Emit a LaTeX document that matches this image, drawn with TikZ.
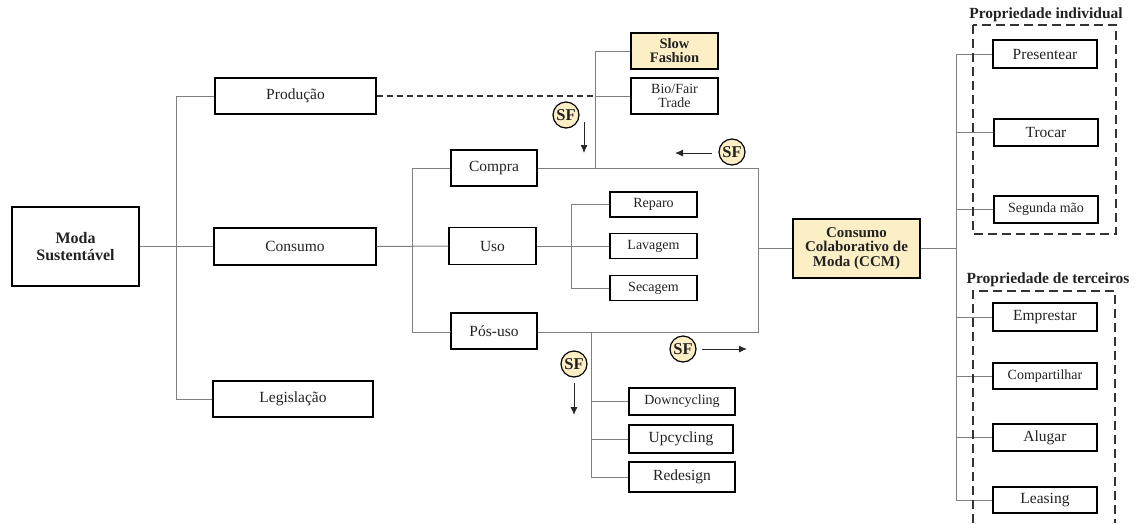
\documentclass[tikz,border=0pt]{standalone}
\usepackage{fontspec}
\setmainfont{Liberation Serif}
\usetikzlibrary{arrows.meta}
\definecolor{sfyellow}{HTML}{FCEFC5}
\definecolor{linegray}{HTML}{808080}
\definecolor{txt}{HTML}{222222}
\tikzset{
  box/.style={draw=black, line width=1.3pt, inner sep=1pt, align=center, text=txt,
    font=\fontsize{15.5}{17}\selectfont},
  boxs/.style={box, font=\fontsize{14}{14}\selectfont},
  boxb/.style={box, font=\bfseries\fontsize{15.5}{15}\selectfont},
  hl/.style={fill=sfyellow},
  conn/.style={draw=linegray, line width=1pt},
  dconn/.style={draw=black!80, line width=1.3pt, dash pattern=on 6pt off 4pt},
  grp/.style={draw=black!80, line width=1.5pt, dash pattern=on 9pt off 5pt},
  grplabel/.style={font=\bfseries\fontsize{15.5}{17}\selectfont, text=txt},
  sfc/.style={circle, draw=black, line width=1.2pt, fill=sfyellow, minimum size=26pt, inner sep=0pt,
    font=\bfseries\fontsize{16.5}{16}\selectfont, text=txt},
  arr/.style={draw=black!85, line width=0.9pt, -{Latex[length=8pt,width=7pt]}},
}
\begin{document}
\begin{tikzpicture}[x=1pt,y=-1pt]
\useasboundingbox (0,0) rectangle (1146,523);

% level 0/1
\node[box, font=\bfseries\fontsize{16}{17}\selectfont, minimum width=127pt, minimum height=79pt] (moda) at (75.5,246.5) {Moda\\Sustentável};
\node[box, minimum width=161pt, minimum height=36pt] (prod) at (295.5,96) {Produção};
\node[box, minimum width=162pt, minimum height=37pt] (cons) at (295,246.5) {Consumo};
\node[box, minimum width=160pt, minimum height=36pt] (legis) at (293,399) {Legislação};

% production branch
\node[boxb, hl, font=\bfseries\fontsize{14.5}{14}\selectfont, minimum width=87pt, minimum height=36pt] (slow) at (674.5,51) {Slow\\Fashion};
\node[boxs, font=\fontsize{14}{13.5}\selectfont, minimum width=87pt, minimum height=36pt] (bio) at (674.5,96) {Bio/Fair\\Trade};

% consumption branch
\node[box, minimum width=86pt, minimum height=36pt] (compra) at (494,168) {Compra};
\node[box, minimum width=87pt, minimum height=37pt] (uso) at (492.5,246) {Uso};
\node[box, minimum width=86pt, minimum height=36pt] (posuso) at (494,331) {Pós-uso};

\node[boxs, minimum width=87pt, minimum height=25pt] (reparo) at (653.5,204.5) {Reparo};
\node[boxs, minimum width=87pt, minimum height=25pt] (lavagem) at (653.5,246) {Lavagem};
\node[boxs, minimum width=87pt, minimum height=25pt] (secagem) at (653.5,288) {Secagem};

\node[boxs, minimum width=106pt, minimum height=27pt] (down) at (682,401.5) {Downcycling};
\node[box, minimum width=104pt, minimum height=28pt] (up) at (681,439) {Upcycling};
\node[box, minimum width=106pt, minimum height=30pt] (redesign) at (682,477) {Redesign};

% CCM
\node[boxb, hl, font=\bfseries\fontsize{15}{14.5}\selectfont, minimum width=127pt, minimum height=59pt] (ccm) at (856.5,248.5) {Consumo\\Colaborativo de\\Moda (CCM)};

% property groups
\node[box, minimum width=104pt, minimum height=28pt] (present) at (1045,54) {Presentear};
\node[box, minimum width=104pt, minimum height=27pt] (trocar) at (1046,132.5) {Trocar};
\node[boxs, minimum width=104pt, minimum height=27pt] (segunda) at (1046,209.5) {Segunda mão};

\node[box, minimum width=104pt, minimum height=28pt] (emprestar) at (1045,317) {Emprestar};
\node[boxs, minimum width=104pt, minimum height=26pt] (compart) at (1045,376) {Compartilhar};
\node[box, minimum width=104pt, minimum height=27pt] (alugar) at (1045,437.5) {Alugar};
\node[box, minimum width=104pt, minimum height=26pt] (leasing) at (1045,500) {Leasing};

\node[grplabel] (g1label) at (1046,15) {Propriedade individual};
\node[grplabel] (g2label) at (1048,280) {Propriedade de terceiros};

% junction coordinates
\coordinate (sfj) at (595,168);
\coordinate (cr) at (758,168);
\coordinate (pr) at (758,332);
\coordinate (pj) at (591,332);

% connectors level 1
\draw[conn] (moda.east) -- (cons.west);
\draw[conn] (prod.west) -- ++(-38,0) |- (legis.west);
\draw[dconn] (prod.east) -- (prod.east -| sfj);
\draw[conn] (slow.west) -| (sfj);
\draw[conn] (bio.west) -- (bio.west -| sfj);

% consumption connectors
\draw[conn] (cons.east) -- (uso.west);
\draw[conn] (compra.west) -- ++(-38,0) |- (posuso.west |- pr);
\draw[conn] (posuso.west |- pr) -- (posuso.west);
\draw[conn] (compra.east) -- (cr) -- (pr) -- (posuso.east |- pr);
\draw[conn] (uso.east) -- (lavagem.west);
\draw[conn] (reparo.west) -- ++(-38,0) |- (secagem.west);
\draw[conn] (pj) |- (redesign.west);
\draw[conn] (down.west) -- (down.west -| pj);
\draw[conn] (up.west) -- (up.west -| pj);
\draw[conn] (ccm.west) -- (ccm.west -| cr);

% CCM connectors
\draw[conn] (ccm.east) -- (ccm.east -| 957,0);
\draw[conn] (present.west) -- ++(-36,0) |- (leasing.west);
\foreach \n in {trocar,segunda,emprestar,compart,alugar}
  \draw[conn] (\n.west) -- (\n.west -| 957,0);

% dashed groups
\draw[grp] (973,25) rectangle (1116,234);
\draw[grp] (973,523) -- (973,291) -- (1115,291) -- (1115,523);

% SF markers
\node[sfc] (sf1) at (566,115) {SF};
\coordinate (a1s) at (584,122); \coordinate (a1e) at (584,153);
\draw[arr] (a1s) -- (a1e);

\node[sfc] (sf2) at (732,152) {SF};
\coordinate (a2s) at (712,153); \coordinate (a2e) at (675,153);
\draw[arr] (a2s) -- (a2e);

\node[sfc] (sf3) at (574,364) {SF};
\coordinate (a3s) at (574,383); \coordinate (a3e) at (574,415);
\draw[arr] (a3s) -- (a3e);

\node[sfc] (sf4) at (683,349) {SF};
\coordinate (a4s) at (702,349); \coordinate (a4e) at (747,349);
\draw[arr] (a4s) -- (a4e);
\end{tikzpicture}
\end{document}
